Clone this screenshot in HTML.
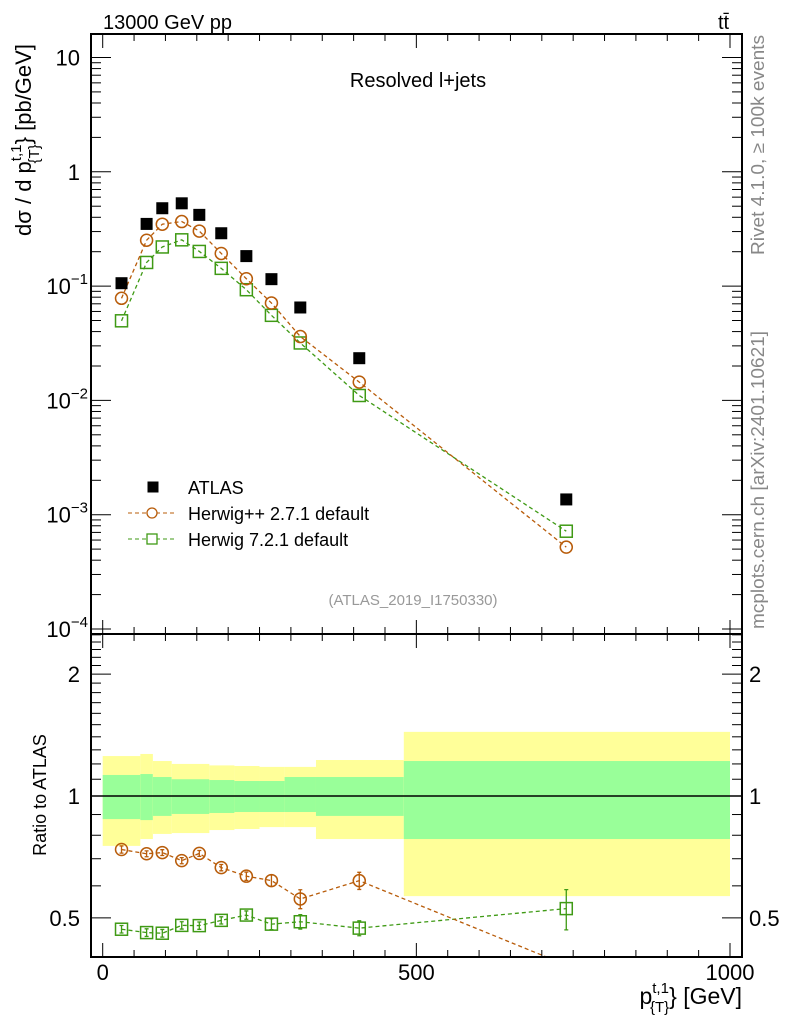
<!DOCTYPE html>
<html><head><meta charset="utf-8"><style>
html,body{margin:0;padding:0;background:#fff;}
svg{display:block;font-family:"Liberation Sans",sans-serif;}
</style></head><body>
<svg id="c" width="786" height="1024" viewBox="0 0 786 1024">
<g id="bands"></g>
<g id="marks"></g>
<g id="axes"></g>
<text x="103" y="29" font-size="20">13000 GeV pp</text>
<text x="718" y="29" font-size="20">tt̄</text>
<text x="418" y="87" font-size="20" text-anchor="middle">Resolved l+jets</text>
<text x="413" y="605" font-size="15" fill="#999" text-anchor="middle">(ATLAS_2019_I1750330)</text>
<text transform="translate(764,145) rotate(-90)" font-size="18" fill="#888" text-anchor="middle" textLength="220" lengthAdjust="spacingAndGlyphs">Rivet 4.1.0, ≥ 100k events</text>
<text transform="translate(764,480) rotate(-90)" font-size="18" fill="#888" text-anchor="middle" textLength="298" lengthAdjust="spacingAndGlyphs">mcplots.cern.ch [arXiv:2401.10621]</text>
<text transform="translate(31,140) rotate(-90)" font-size="22" text-anchor="middle">dσ / d p<tspan font-size="15" dy="-10">t,1</tspan><tspan font-size="15" dx="-19" dy="18">{T}</tspan><tspan dy="-8">} [pb/GeV]</tspan></text>
<text transform="translate(46,795) rotate(-90)" font-size="18" text-anchor="middle">Ratio to ATLAS</text>
<text x="742" y="1004" font-size="23" text-anchor="end">p<tspan font-size="15" dy="-11">t,1</tspan><tspan font-size="15" dx="-19" dy="19">{T}</tspan><tspan dy="-8">} [GeV]</tspan></text>
<g>
<rect x="147.5" y="481.5" width="11" height="11" fill="#000"/>
<text x="188" y="494" font-size="18">ATLAS</text>
<line x1="128" y1="513" x2="175" y2="513" stroke="#b85c0a" stroke-width="1" stroke-dasharray="4,3"/>
<circle cx="152" cy="513" r="5" fill="#fff" stroke="#b85c0a" stroke-width="1.3"/>
<text x="188" y="520" font-size="18">Herwig++ 2.7.1 default</text>
<line x1="128" y1="539" x2="175" y2="539" stroke="#3f9a15" stroke-width="1" stroke-dasharray="4,3"/>
<rect x="147" y="534" width="10" height="10" fill="#fff" stroke="#3f9a15" stroke-width="1.3"/>
<text x="188" y="546" font-size="18">Herwig 7.2.1 default</text>
</g>
</svg>
<script>
const xCenters=[30,70,95,126,154,189,229,269,315,409,739];
const atlas=[0.106,0.35,0.48,0.53,0.42,0.29,0.183,0.115,0.065,0.0234,0.00136];
const herwigpp=[0.0782,0.252,0.348,0.367,0.303,0.193,0.116,0.0711,0.0362,0.01446,0.00052];
const herwig7=[0.0497,0.161,0.220,0.254,0.201,0.143,0.093,0.0555,0.0318,0.01104,0.000717];
const hppRatioErr=[0.015,0.012,0.012,0.012,0.012,0.012,0.015,0.02,0.03,0.03,0.04];
const h7RatioErr=[0.01,0.01,0.01,0.01,0.01,0.01,0.012,0.015,0.02,0.02,0.06];
const binEdges=[0,60,80,110,170,210,250,290,340,480,1000];
const statUp=[1.127,1.133,1.114,1.10,1.095,1.089,1.089,1.114,1.114,1.22];
const statDn=[0.877,0.872,0.893,0.903,0.908,0.913,0.913,0.913,0.893,0.783];
const totUp=[1.255,1.27,1.22,1.20,1.19,1.186,1.18,1.18,1.227,1.44];
const totDn=[0.753,0.783,0.806,0.81,0.824,0.829,0.838,0.838,0.783,0.566];
const topTicks=[10,1,0.1,0.01,0.001,0.0001];
const topTickLabels=[["10",""],["1",""],["10","−1"],["10","−2"],["10","−3"],["10","−4"]];
const ratioTicks=[2,1,0.5];
const xTicks=[0,500,1000];

const NS="http://www.w3.org/2000/svg";
const L=91,R=742,T1=34,B1=634,T2=634,B2=957;
const X=v=>102.7+v*0.6273;
const Y1=v=>57.5-(Math.log10(v)-1)*114.3;
const Y2=v=>796-Math.log10(v)*405;
function el(tag,attrs,parent){const e=document.createElementNS(NS,tag);for(const k in attrs)e.setAttribute(k,attrs[k]);parent.appendChild(e);return e;}
const bands=document.getElementById('bands'),marks=document.getElementById('marks'),axes=document.getElementById('axes');

for(let i=0;i<statUp.length;i++){
  const x1=X(binEdges[i]),x2=X(binEdges[i+1]);
  const y=el('rect',{x:x1,y:Y2(totUp[i]),width:x2-x1,height:Y2(totDn[i])-Y2(totUp[i]),fill:'#ffff99'},bands);
  
  
  const g=el('rect',{x:x1,y:Y2(statUp[i]),width:x2-x1,height:Y2(statDn[i])-Y2(statUp[i]),fill:'#99ff99'},bands);
  
  
}
const one=el('line',{x1:L,x2:R,y1:Y2(1),y2:Y2(1),stroke:'#000','stroke-width':1.5},bands);



function series(vals,color,shape,name){
  const pts=xCenters.map((x,i)=>X(x)+','+Y1(vals[i])).join(' ');
  const pl=el('polyline',{points:pts,fill:'none',stroke:color,'stroke-width':1.3,'stroke-dasharray':'4,3'},marks);
  
  
  const rp=xCenters.map((x,i)=>X(x)+','+Y2(vals[i]/atlas[i])).join(' ');
  const cp=el('clipPath',{id:'clip'+name},marks);
  el('rect',{x:L,y:T2,width:R-L,height:B2-T2},cp);
  const rl=el('polyline',{points:rp,fill:'none',stroke:color,'stroke-width':1.3,'stroke-dasharray':'4,3','clip-path':'url(#clip'+name+')'},marks);
  
  
  const errs=shape==='circle'?hppRatioErr:h7RatioErr;
  xCenters.forEach((x,i)=>{
    const cx=X(x);
    [[Y1(vals[i]),'',0],[Y2(vals[i]/atlas[i]),'-ratio',1]].forEach(([cy,suf,isR])=>{
      if(isR&&(cy>B2||cy<T2))return;
      if(isR){
        const r=vals[i]/atlas[i];
        const e=el('path',{d:`M${cx},${Y2(r+errs[i])}V${Y2(r-errs[i])}M${cx-2},${Y2(r+errs[i])}h4M${cx-2},${Y2(r-errs[i])}h4`,stroke:color,'stroke-width':1.3,fill:'none'},marks);
        
        
      }
      let m;
      if(shape==='circle') m=el('circle',{cx:cx,cy:cy,r:6,fill:'none',stroke:color,'stroke-width':1.5},marks);
      else m=el('rect',{x:cx-6,y:cy-6,width:12,height:12,fill:'none',stroke:color,'stroke-width':1.5},marks);
      
      
    });
  });
}
series(herwig7,'#3f9a15','square','herwig7');
series(herwigpp,'#b85c0a','circle','herwigpp');
xCenters.forEach((x,i)=>{
  const m=el('rect',{x:X(x)-6,y:Y1(atlas[i])-6,width:12,height:12,fill:'#000'},marks);
  
  
});

[[T1,B1],[T2,B2]].forEach(([t,b],k)=>{
  const f=el('rect',{x:L,y:t,width:R-L,height:b-t,fill:'none',stroke:'#000','stroke-width':2},axes);
  
  
  for(let v=0;v<=1000;v+=50){
    const len=v%500===0?14:7;
    el('line',{x1:X(v),x2:X(v),y1:b,y2:b-len,stroke:'#000','stroke-width':1},axes);
    el('line',{x1:X(v),x2:X(v),y1:t,y2:t+len,stroke:'#000','stroke-width':1},axes);
  }
});
for(let d=-4;d<=1;d++){
  for(let m=1;m<10;m++){
    const v=m*Math.pow(10,d);const y=Y1(v);
    if(y<T1||y>B1)continue;
    const len=m===1?20:10;
    el('line',{x1:L,x2:L+len,y1:y,y2:y,stroke:'#000','stroke-width':1},axes);
    el('line',{x1:R,x2:R-len,y1:y,y2:y,stroke:'#000','stroke-width':1},axes);
  }
}
topTicks.forEach((v,i)=>{
  const t=el('text',{x:80,y:Y1(v)+8,'font-size':22,'text-anchor':'end'},axes);
  t.textContent=topTickLabels[i][0];
  if(topTickLabels[i][1]){const s=el('tspan',{'font-size':15,dy:-10},t);s.textContent=topTickLabels[i][1];t.setAttribute('x',88);}
  
  
});
for(let v=0.4;v<=2.51;v+=0.1){
  const y=Y2(v);if(y<T2||y>B2)continue;
  const major=Math.abs(v-1)<1e-6||Math.abs(v-2)<1e-6||Math.abs(v-0.5)<1e-6;
  const len=major?20:10;
  el('line',{x1:L,x2:L+len,y1:y,y2:y,stroke:'#000','stroke-width':1},axes);
  el('line',{x1:R,x2:R-len,y1:y,y2:y,stroke:'#000','stroke-width':1},axes);
}
ratioTicks.forEach(v=>{
  const a=el('text',{x:80,y:Y2(v)+8,'font-size':22,'text-anchor':'end'},axes);
  a.textContent=String(v);
  
  
  const b=el('text',{x:749,y:Y2(v)+8,'font-size':22},axes);
  b.textContent=String(v);
  
  
});
xTicks.forEach(v=>{
  const t=el('text',{x:X(v),y:980,'font-size':22,'text-anchor':'middle'},axes);
  t.textContent=String(v);
  
  
});
</script>
</body></html>
